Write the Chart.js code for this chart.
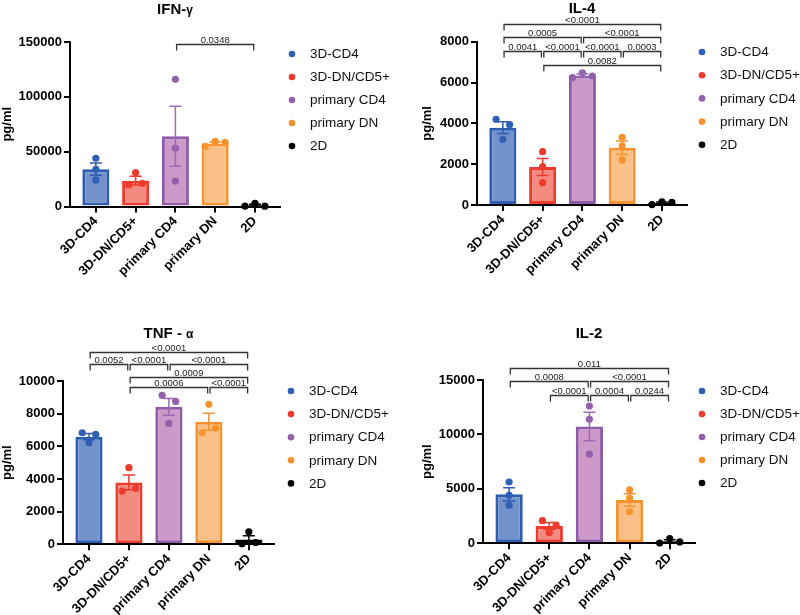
<!DOCTYPE html>
<html><head><meta charset="utf-8">
<script src="https://cdn.jsdelivr.net/npm/chart.js@4"></script>
<style>
html,body{margin:0;padding:0;background:#fff;}
#wrap{position:relative;width:800px;height:615px;overflow:hidden;}
canvas{position:absolute;}
</style></head><body>
<div id="wrap">
<canvas id="c1" width="400" height="300" style="left:0;top:0"></canvas>
<canvas id="c2" width="400" height="300" style="left:400px;top:0"></canvas>
<canvas id="c3" width="400" height="315" style="left:0;top:300px"></canvas>
<canvas id="c4" width="400" height="315" style="left:400px;top:300px"></canvas>
</div>
<script>
// ---------- data ----------
const categories = ['3D-CD4','3D-DN/CD5+','primary CD4','primary DN','2D'];

// IFN-γ
const ifnMeans = [34000, 23500, 64000, 57500, 1200];
const ifnSem = [5600, 4000, 27300, 1400, 850];
const ifnPoints = [[44000,33900,24200],[30800,19600,21100],[116000,53100,23200],[54800,59300,58400],[400,2900,300]];
const ifnTicks = [0, 50000, 100000, 150000];
const ifnBrackets = [[2,4,148000,'0.0348']];

// IL-4
const il4Means = [3790, 1860, 6350, 2810, 103];
const il4Sem = [290, 420, 70, 330, 45];
const il4Points = [[4200,3935,3220],[2610,1880,1095],[6240,6480,6320],[3320,2900,2205],[20,160,130]];
const il4Ticks = [0, 2000, 4000, 6000, 8000];
const il4Brackets = [[0,4,8870,'<0.0001'],[0,2,8250,'0.0005'],[2,4,8250,'<0.0001'],[0,1,7560,'0.0041'],[1,2,7560,'<0.0001'],[2,3,7560,'<0.0001'],[3,4,7560,'0.0003'],[1,4,6860,'0.0082']];

// TNF-α
const tnfMeans = [6590, 3790, 8420, 7500, 300];
const tnfSem = [190, 450, 510, 520, 230];
const tnfPoints = [[6830,6730,6220],[4690,3260,3430],[9120,8750,7400],[8570,6830,7100],[770,30,110]];
const tnfTicks = [0, 2000, 4000, 6000, 8000, 10000];
const tnfBrackets = [[0,4,11790,'<0.0001'],[0,1,11030,'0.0052'],[1,2,11030,'<0.0001'],[2,4,11030,'<0.0001'],[1,4,10220,'0.0009'],[1,3,9610,'0.0006'],[3,4,9610,'<0.0001']];

// IL-2
const il2Means = [4500, 1590, 10730, 3980, 190];
const il2Sem = [610, 310, 1310, 580, 125];
const il2Points = [[5630,4410,3490],[2080,1680,980],[12610,11390,8200],[4900,4130,2900],[20,430,130]];
const il2Ticks = [0, 5000, 10000, 15000];
const il2Brackets = [[0,4,16070,'0.011'],[0,2,14910,'0.0008'],[2,4,14910,'<0.0001'],[1,2,13620,'<0.0001'],[2,3,13620,'0.0004'],[3,4,13620,'0.0244']];

// ---------- styles ----------
const barFill = ['#7391CB','#F48B80','#CD99C9','#F8C086','#444444'];
const barEdge = ['#2C5DB1','#EE3B2D','#8D5BA8','#F7932F','#000000'];
const errColor = ['#2C5DB1','#EE3B2D','#9A6BB3','#F7932F','#000000'];
const dotColor = ['#2F60B5','#EE3B2E','#9360AC','#F7932F','#000000'];
const FONT = "'Liberation Sans', Arial, Helvetica, sans-serif";
Chart.defaults.font.family = FONT;

function jitter(vals, thr) {
  const idx = vals.map((v,i)=>i).sort((a,b)=>vals[a]-vals[b]);
  const groups = []; let cur = [idx[0]];
  for (let k=1;k<idx.length;k++) {
    if (vals[idx[k]] - vals[idx[k-1]] < thr) cur.push(idx[k]); else { groups.push(cur); cur=[idx[k]]; }
  }
  groups.push(cur);
  const off = new Array(vals.length).fill(0);
  groups.forEach(g => {
    g.sort((a,b)=>a-b);
    const n = g.length, step = n === 2 ? 0.34 : 0.25;
    g.forEach((pi,k)=>{ off[pi] = (k-(n-1)/2)*step; });
  });
  return off;
}

function overlay(P) {
  return {
    id: 'ov',
    afterDatasetsDraw(chart) {
      const ctx = chart.ctx, a = chart.chartArea, x = chart.scales.x, y = chart.scales.y;
      ctx.save();
      // error bars
      P.means.forEach((m,i)=>{
        const xc = x.getPixelForValue(i);
        const yt = y.getPixelForValue(m + P.sem[i]);
        const yb = y.getPixelForValue(Math.max(0, m - P.sem[i]));
        ctx.strokeStyle = errColor[i]; ctx.lineWidth = 1.5;
        ctx.beginPath();
        ctx.moveTo(xc, yt); ctx.lineTo(xc, yb);
        ctx.moveTo(xc-6, yt); ctx.lineTo(xc+6, yt);
        ctx.moveTo(xc-6, yb); ctx.lineTo(xc+6, yb);
        ctx.stroke();
      });
      // brackets
      ctx.strokeStyle = '#333'; ctx.lineWidth = 1.3; ctx.fillStyle = '#222';
      ctx.font = '9.5px ' + FONT; ctx.textAlign = 'center'; ctx.textBaseline = 'alphabetic';
      P.brackets.forEach(b => {
        const x1 = x.getPixelForValue(b[0]) + 1.2, x2 = x.getPixelForValue(b[1]) - 1.2;
        const yy = Math.round(y.getPixelForValue(b[2])) + 0.5;
        ctx.beginPath();
        ctx.moveTo(x1, yy+6); ctx.lineTo(x1, yy); ctx.lineTo(x2, yy); ctx.lineTo(x2, yy+6);
        ctx.stroke();
        ctx.fillText(b[3], (x1+x2)/2, yy - 2);
      });
      // title
      ctx.fillStyle = '#000'; ctx.textAlign = 'left';
      let tw = 0;
      P.title.forEach(p => { ctx.font = 'bold ' + p[1] + 'px ' + FONT; tw += ctx.measureText(p[0]).width; });
      let tx = (a.left + a.right)/2 - tw/2;
      P.title.forEach(p => { ctx.font = 'bold ' + p[1] + 'px ' + FONT; ctx.fillText(p[0], tx, P.titleY + 5.5); tx += ctx.measureText(p[0]).width; });
      // legend
      ctx.font = '13.5px ' + FONT; ctx.textBaseline = 'middle';
      categories.forEach((c,i)=>{
        const ly = P.legY + i*P.legStep;
        ctx.fillStyle = dotColor[i];
        ctx.beginPath(); ctx.arc(P.legX, ly, 3.3, 0, Math.PI*2); ctx.fill();
        ctx.fillStyle = '#111';
        ctx.fillText(c, P.legX + 18, ly + 0.5);
      });
      ctx.restore();
    }
  };
}

function build(id, P) {
  const cv = document.getElementById(id);
  const W = cv.width, H = cv.height;
  const yMax = P.ticks[P.ticks.length-1];
  const thr = yMax * 7 / 164;
  const pts = [], ptsCol = [];
  P.points.forEach((vals,i)=>{
    const off = jitter(vals, thr);
    vals.forEach((v,k)=>{ pts.push({x: i + off[k], y: v}); ptsCol.push(dotColor[i]); });
  });
  const axisGrid = {drawOnChartArea:false, drawTicks:true, tickLength:6, color:'#000', lineWidth:2};
  const axisBorder = {display:true, color:'#000', width:2};
  new Chart(cv, {
    type: 'bar',
    data: { datasets: [
      {type:'bar', data: categories.map((c,i)=>({x:i, y:P.means[i]})), backgroundColor: barFill, borderColor: barEdge,
       borderWidth: 3, borderSkipped: false, barPercentage: 0.68, categoryPercentage: 1, order: 2, clip: false},
      {type:'scatter', data: pts, backgroundColor: ptsCol, pointRadius: 3.6, pointHoverRadius: 3.6, pointBorderWidth: 0, order: 1, clip: false}
    ]},
    options: {
      responsive: false, animation: false, events: [],
      layout: {padding: {left: P.padLeft, top: P.area.top, right: W - P.area.right, bottom: 0}},
      plugins: {legend: {display:false}, title: {display:false}, tooltip: {enabled:false}},
      scales: {
        x: {type:'linear', min:-0.65, max:4.63, offset:false,
            afterBuildTicks: s => { s.ticks = categories.map((c,i)=>({value:i})); },
            afterFit: s => { s.height = H - P.area.bottom; },
            ticks: {callback: v => categories[v], minRotation:45, maxRotation:45, autoSkip:false, color:'#000', font:{weight:'bold', size:13}, padding:1},
            grid: Object.assign({offset:false}, axisGrid), border: axisBorder},
        y: {min:0, max:yMax,
            afterBuildTicks: s => { s.ticks = P.ticks.map(v=>({value:v})); },
            afterFit: s => { s.width = P.area.left - P.padLeft; },
            ticks: {callback: v => String(v), color:'#000', font:{weight:'bold', size:13}, padding:2},
            grid: axisGrid, border: axisBorder,
            title: {display:true, text:'pg/ml', color:'#000', font:{weight:'bold', size:13}, padding:0}}
      }
    },
    plugins: [overlay(P)]
  });
}

build('c1', {means: ifnMeans, sem: ifnSem, points: ifnPoints, ticks: ifnTicks, brackets: ifnBrackets,
  title: [['IFN-',15],['γ',12]], titleY: 8, area: {left:70, right:280, top:42, bottom:206.5}, padLeft: 0,
  legX: 292, legY: 54, legStep: 23});
build('c2', {means: il4Means, sem: il4Sem, points: il4Points, ticks: il4Ticks, brackets: il4Brackets,
  title: [['IL-4',15]], titleY: 7, area: {left:77, right:287, top:41.7, bottom:205}, padLeft: 20,
  legX: 302, legY: 52, legStep: 23.2});
build('c3', {means: tnfMeans, sem: tnfSem, points: tnfPoints, ticks: tnfTicks, brackets: tnfBrackets,
  title: [['TNF - ',15],['α',12]], titleY: 32, area: {left:63, right:274, top:81, bottom:244.3}, padLeft: 0,
  legX: 291, legY: 91, legStep: 23.1});
build('c4', {means: il2Means, sem: il2Sem, points: il2Points, ticks: il2Ticks, brackets: il2Brackets,
  title: [['IL-2',15]], titleY: 32, area: {left:83, right:295, top:80, bottom:243.3}, padLeft: 20,
  legX: 302, legY: 91, legStep: 23});
</script>
</body></html>
